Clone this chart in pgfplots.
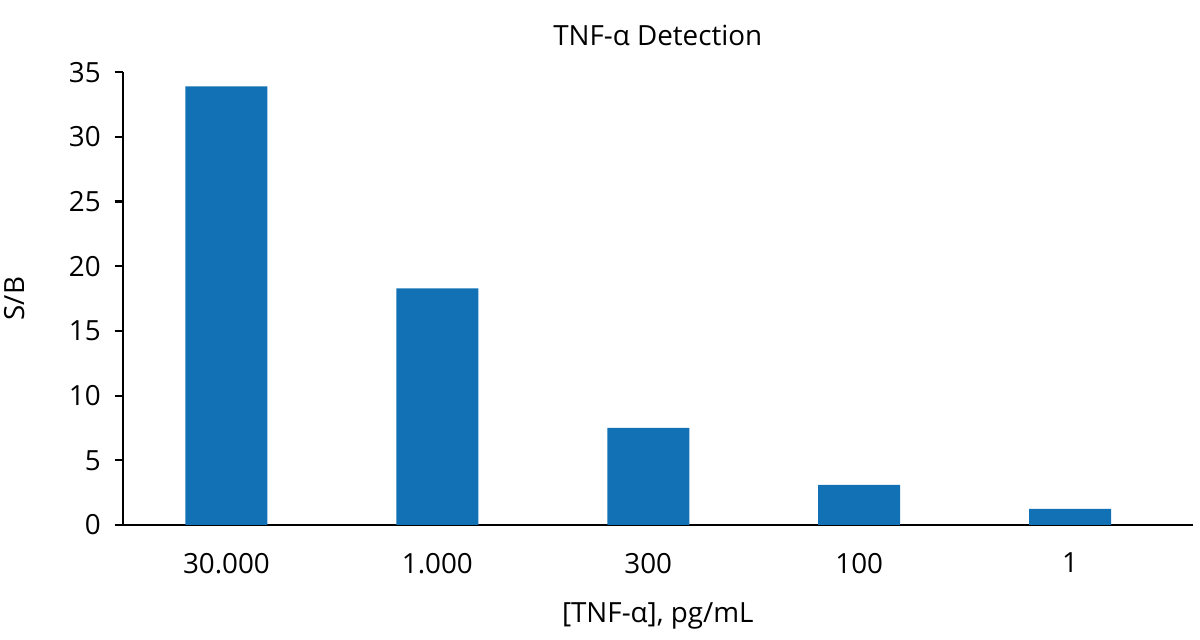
\documentclass[border=0pt]{standalone}
\usepackage{pgfplots}
\pgfplotsset{compat=1.18}
\usepackage{fontspec}
\setmainfont{Open Sans}
\definecolor{barblue}{HTML}{1171B4}

\begin{document}
\begin{tikzpicture}
\begin{axis}[
  at={(0,0)}, anchor=south west,
  scale only axis,
  width=385pt, height=163pt,
  xmin=-0.49, xmax=4.58,
  ymin=0, ymax=35,
  ytick={0,5,...,35},
  xtick={0,1,2,3,4},
  xticklabels={30.000,1.000,300,100,1},
  axis x line=bottom, axis y line=left,
  axis line style={-, line width=0.8pt},
  x tick style={draw=none},
  y tick style={line width=0.8pt, black},
  tick align=outside,
  major tick length=3pt,
  extra x ticks={-0.49},
  extra x tick labels={},
  extra x tick style={tick style={draw=black, line width=0.8pt}, major tick length=3pt},
  /pgf/number format/assume math mode=true,
  tick label style={font=\fontsize{10}{12}\selectfont},
  xticklabel style={yshift=-3.5pt},
  yticklabel style={xshift=-1.5pt},
  title={TNF-α Detection},
  title style={font=\fontsize{10}{12}\selectfont, yshift=0pt},
  ylabel={S/B},
  ylabel style={font=\fontsize{10}{12}\selectfont, yshift=9pt},
  xlabel={[TNF-α], pg/mL},
  xlabel style={font=\fontsize{10}{12}\selectfont, yshift=2.5pt},
]
\addplot[ybar, bar width=29.5pt, fill=barblue, draw=none] coordinates {
  (0,33.9) (1,18.3) (2,7.5) (3,3.1) (4,1.24)
};
\end{axis}
\pgfresetboundingbox
\path[use as bounding box] (-44.3pt,-41.4pt) rectangle (387.7pt,189pt);
\end{tikzpicture}
\end{document}
